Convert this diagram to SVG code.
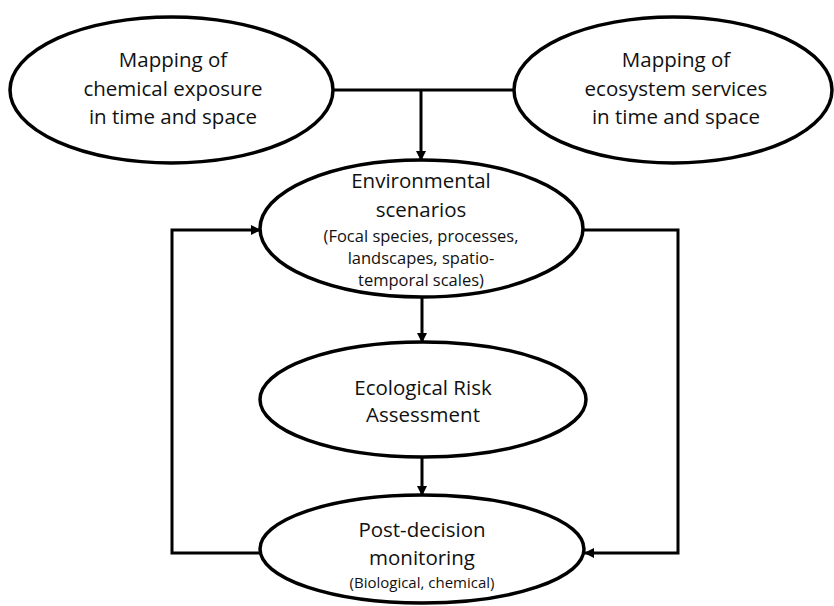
<svg xmlns="http://www.w3.org/2000/svg" width="834" height="606" viewBox="0 0 834 606">
<style>
.node ellipse{fill:#fff;stroke:#000;stroke-width:3.5}
.t{font-family:"Open Sans","Noto Sans",sans-serif;font-size:20.5px;fill:#111;text-anchor:middle}
.s{font-family:"Open Sans","Noto Sans",sans-serif;font-size:16.5px;fill:#111;text-anchor:middle}
.s2{font-family:"Open Sans","Noto Sans",sans-serif;font-size:15px;fill:#111;text-anchor:middle}
.c{fill:none;stroke:#000;stroke-width:3}
</style>
<defs>
<marker id="ah" markerWidth="10" markerHeight="10" refX="9" refY="5" orient="auto" markerUnits="userSpaceOnUse">
<path d="M0,0 L10,5 L0,10 Z" fill="#000"/>
</marker>
</defs>
<rect width="834" height="606" fill="#fff"/>
<g id="connectors">
<path class="c" d="M333,90 H514"/>
<path class="c" d="M421,90 V160" marker-end="url(#ah)"/>
<path class="c" d="M422,297 V342" marker-end="url(#ah)"/>
<path class="c" d="M422,457 V495" marker-end="url(#ah)"/>
<path class="c" d="M260,553 H172 V230 H260" marker-end="url(#ah)"/>
<path class="c" d="M583,230 H678 V553 H585" marker-end="url(#ah)"/>
</g>
<g id="n-chem" class="node">
<ellipse cx="171.5" cy="90" rx="161.5" ry="73"/>
<text class="t" x="173" y="67">Mapping of</text>
<text class="t" x="173" y="96">chemical exposure</text>
<text class="t" x="173" y="124">in time and space</text>
</g>
<g id="n-eco" class="node">
<ellipse cx="673" cy="90" rx="159" ry="73"/>
<text class="t" x="676" y="67">Mapping of</text>
<text class="t" x="676" y="96">ecosystem services</text>
<text class="t" x="676" y="124">in time and space</text>
</g>
<g id="n-env" class="node">
<ellipse cx="421.5" cy="228.5" rx="161.5" ry="68.5"/>
<text class="t" x="421" y="188">Environmental</text>
<text class="t" x="421" y="217">scenarios</text>
<text class="s" x="421" y="242">(Focal species, processes,</text>
<text class="s" x="421" y="264">landscapes, spatio-</text>
<text class="s" x="421" y="286">temporal scales)</text>
</g>
<g id="n-era" class="node">
<ellipse cx="423" cy="399.5" rx="163" ry="57.5"/>
<text class="t" x="423" y="395">Ecological Risk</text>
<text class="t" x="423" y="422">Assessment</text>
</g>
<g id="n-pdm" class="node">
<ellipse cx="422" cy="549" rx="162" ry="54"/>
<text class="t" x="422" y="537">Post-decision</text>
<text class="t" x="422" y="565">monitoring</text>
<text class="s2" x="422" y="588">(Biological, chemical)</text>
</g>
</svg>
